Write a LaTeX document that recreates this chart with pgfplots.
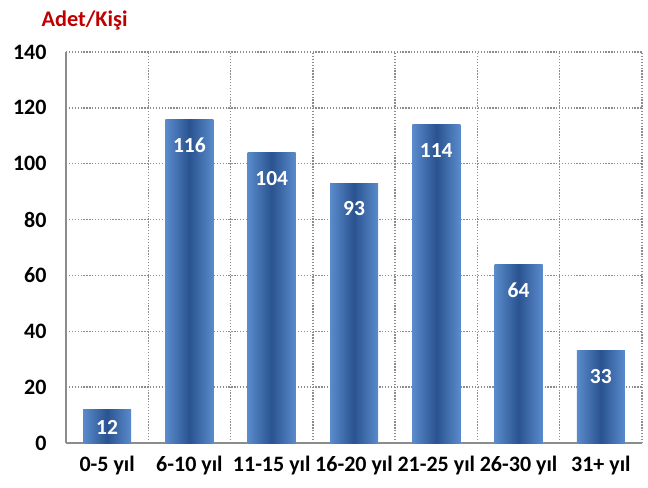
\documentclass[border=0pt]{standalone}
\usepackage{fontspec}
\setmainfont{Carlito}
\usepackage{pgfplots}
\pgfplotsset{compat=1.18}
\definecolor{barlight}{HTML}{5A8BCC}
\definecolor{bardark}{HTML}{2A5390}
\definecolor{gridgray}{HTML}{8C8C8C}
\definecolor{titlered}{HTML}{C00000}
\pgfplotsset{mybar/.style={bar shift=0pt, draw=none, left color=barlight, right color=barlight, middle color=bardark}}
\begin{document}
\begin{tikzpicture}
\begin{axis}[
  scale only axis,
  width=576pt, height=391pt,
  xmin=-0.5, xmax=6.5,
  ymin=0, ymax=140,
  ytick={0,20,...,140},
  xtick={0,...,6},
  xticklabels={0-5 yıl,6-10 yıl,11-15 yıl,16-20 yıl,21-25 yıl,26-30 yıl,31+ yıl},
  minor xtick={0.5,1.5,...,6.5},
  xminorgrids=true, xmajorgrids=false, ymajorgrids=true,
  grid style={gridgray, line width=1.3pt, dash pattern=on 1.3pt off 1.6pt},
  minor grid style={gridgray, line width=1.3pt, dash pattern=on 1.3pt off 1.6pt},
  axis x line*=bottom, axis y line*=left,
  axis line style={-, gridgray, line width=1.6pt},
  major tick length=0pt, minor tick length=0pt,
  tick style={draw=none},
  /pgf/number format/assume math mode=true,
  ticklabel style={font=\fontsize{22}{24}\selectfont\bfseries, text=black},
  yticklabel style={xshift=-16pt},
  xticklabel style={yshift=-10pt},
  ybar, bar width=48pt,
  clip=false,
  nodes near coords,
  every node near coord/.append style={anchor=north, yshift=-15pt, text=white, font=\fontsize{21.5}{23}\selectfont\bfseries},
]
\addplot[mybar, every node near coord/.append style={yshift=8pt}] coordinates {(0,12)};
\addplot[mybar] coordinates {(1,116)};
\addplot[mybar] coordinates {(2,104)};
\addplot[mybar] coordinates {(3,93)};
\addplot[mybar] coordinates {(4,114)};
\addplot[mybar] coordinates {(5,64)};
\addplot[mybar] coordinates {(6,33)};
\node[anchor=base west, text=titlered, font=\fontsize{22.3}{24}\selectfont\bfseries] at ([xshift=-28pt, yshift=25pt]rel axis cs:0,1) {Adet/Kişi};
\path ([xshift=-66pt, yshift=-44pt]rel axis cs:0,0) rectangle ([xshift=6pt, yshift=52pt]rel axis cs:1,1);
\end{axis}
\end{tikzpicture}
\end{document}
